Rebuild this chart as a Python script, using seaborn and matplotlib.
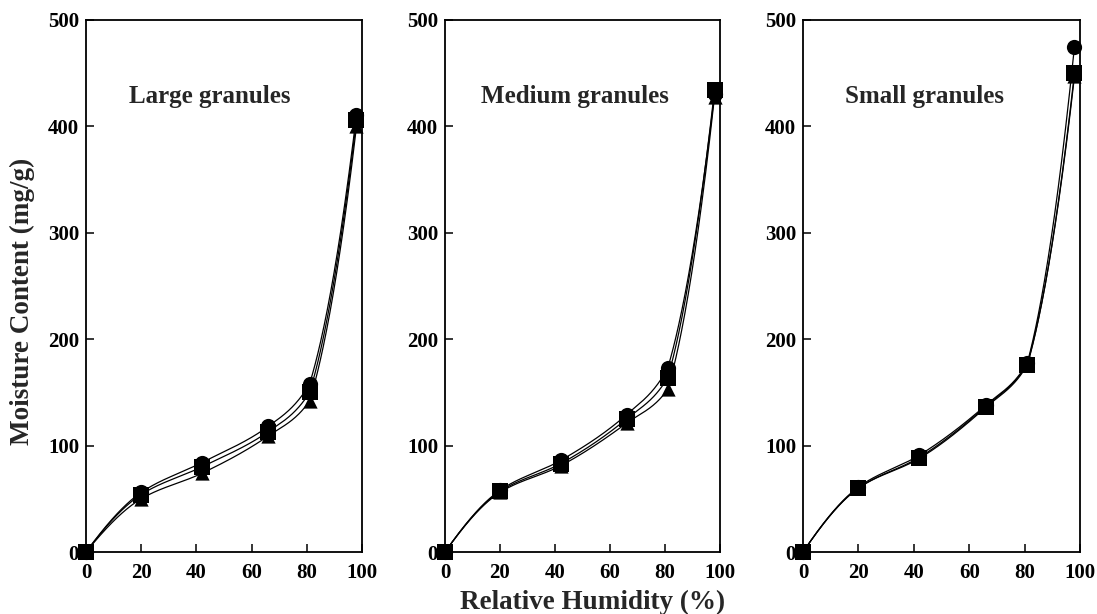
import numpy as np
import pandas as pd
import matplotlib
matplotlib.use("Agg")
import matplotlib.pyplot as plt
import seaborn as sns

# ---- data ----
rh = [0, 20, 42, 66, 81, 98]
panels = ["Large granules", "Medium granules", "Small granules"]
large_circle = [0, 56, 84, 118, 158, 411]
large_square = [0, 54, 80, 113, 150, 406]
large_triangle = [0, 50, 74, 109, 142, 400]
medium_circle = [0, 58, 86, 129, 173, 430]
medium_square = [0, 57, 83, 125, 164, 434]
medium_triangle = [0, 56, 81, 121, 153, 428]
small_circle = [0, 61, 91, 138, 178, 475]
small_square = [0, 60, 88, 136, 176, 450]
small_triangle = [0, 60, 89, 137, 177, 447]
y_ticks = [0, 100, 200, 300, 400, 500]
x_ticks = [0, 20, 40, 60, 80, 100]

series = {
    "Large granules": {"triangle": large_triangle, "circle": large_circle, "square": large_square},
    "Medium granules": {"triangle": medium_triangle, "circle": medium_circle, "square": medium_square},
    "Small granules": {"triangle": small_triangle, "circle": small_circle, "square": small_square},
}
markers = {"circle": "o", "square": "s", "triangle": "^"}


def smooth(x, y, xs):
    """Monotone cubic Hermite curve through the points; the last knee is allowed
    a steeper outgoing tangent (as in the hand-drawn original)."""
    x = np.asarray(x, float); y = np.asarray(y, float)
    h = np.diff(x); d = np.diff(y) / h
    n = len(x); m = np.zeros(n)
    for k in range(1, n - 1):
        if d[k - 1] * d[k] > 0:
            w1 = 2 * h[k] + h[k - 1]; w2 = h[k] + 2 * h[k - 1]
            m[k] = (w1 + w2) / (w1 / d[k - 1] + w2 / d[k])
    m[0] = ((2 * h[0] + h[1]) * d[0] - h[0] * d[1]) / (h[0] + h[1])
    if np.sign(m[0]) != np.sign(d[0]): m[0] = 0
    m[-1] = ((2 * h[-1] + h[-2]) * d[-1] - h[-1] * d[-2]) / (h[-1] + h[-2])
    if np.sign(m[-1]) != np.sign(d[-1]): m[-1] = 0
    mL = m.copy(); mR = m.copy()
    k = n - 2
    mR[k] = (h[k] * d[k - 1] + h[k - 1] * d[k]) / (h[k - 1] + h[k])
    idx = np.clip(np.searchsorted(x, xs) - 1, 0, n - 2)
    t = (xs - x[idx]) / h[idx]
    h00 = 2 * t**3 - 3 * t**2 + 1; h10 = t**3 - 2 * t**2 + t
    h01 = -2 * t**3 + 3 * t**2; h11 = t**3 - t**2
    return h00 * y[idx] + h10 * h[idx] * mR[idx] + h01 * y[idx + 1] + h11 * h[idx] * mL[idx + 1]


sns.set_theme(style="ticks")
plt.rcParams["font.family"] = ["Liberation Serif", "DejaVu Serif"]
plt.rcParams["font.weight"] = "bold"

W, H = 1097, 614
fig = plt.figure(figsize=(W / 100, H / 100), dpi=100)
lefts_px = [86, 445, 803]
rights_px = [362, 720, 1080]
top_px, bot_px = 20, 552
title_x = [0.449, 0.473, 0.437]

for i, name in enumerate(panels):
    ax = fig.add_axes([lefts_px[i] / W, (H - bot_px) / H,
                       (rights_px[i] - lefts_px[i]) / W, (bot_px - top_px) / H])
    for key, vals in series[name].items():
        xs = np.linspace(rh[0], rh[-1], 400)
        curve = pd.DataFrame({"rh": xs, "mc": smooth(rh, vals, xs)})
        sns.lineplot(data=curve, x="rh", y="mc", ax=ax, color="black", lw=0.9, sort=False)
    for key, vals in series[name].items():
        pts = pd.DataFrame({"rh": rh, "mc": vals})
        sns.scatterplot(data=pts, x="rh", y="mc", ax=ax, marker=markers[key], color="black",
                        s=120 if key != "triangle" else 105, edgecolor="black", linewidth=0,
                        clip_on=False, zorder=5)
    ax.set_xlim(0, 100)
    ax.set_ylim(0, 500)
    ax.set_xticks(x_ticks)
    ax.set_yticks(y_ticks)
    ax.tick_params(direction="in", length=6, width=1.1, labelsize=15, colors="black")
    ax.tick_params(axis="x", pad=8)
    ax.tick_params(axis="y", pad=5)
    for lab in ax.get_xticklabels() + ax.get_yticklabels():
        lab.set_fontweight("bold")
    for sp in ax.spines.values():
        sp.set_visible(True)
        sp.set_linewidth(1.3)
        sp.set_color("black")
    ax.set_xlabel("")
    ax.set_ylabel("")
    ax.text(title_x[i], 0.857, name, transform=ax.transAxes, ha="center", va="center",
            fontsize=18, fontweight="bold")

fig.text(22 / W, (H - 301) / H, "Moisture Content (mg/g)", rotation=90, ha="center",
         va="center", fontsize=19.5, fontweight="bold")
fig.text(593 / W, (H - 602) / H, "Relative Humidity (%)", ha="center", va="center",
         fontsize=19.5, fontweight="bold")

fig.savefig("out.png", dpi=100, facecolor="white")
